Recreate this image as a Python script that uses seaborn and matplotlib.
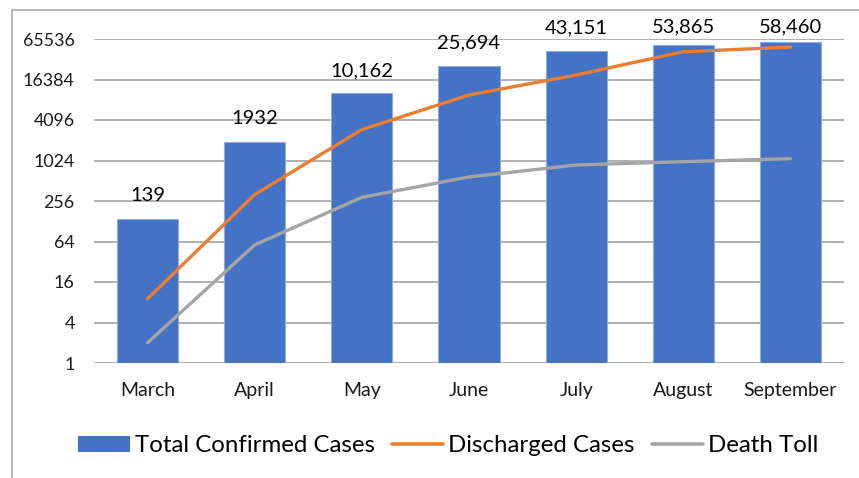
import matplotlib

matplotlib.use("Agg")

import matplotlib.pyplot as plt
import pandas as pd
import seaborn as sns
from matplotlib.lines import Line2D
from matplotlib.patches import Patch, Rectangle

MONTHS = ["March", "April", "May", "June", "July", "August", "September"]
CONFIRMED = [139, 1932, 10162, 25694, 43151, 53865, 58460]
CONFIRMED_LABELS = ["139", "1932", "10,162", "25,694", "43,151", "53,865", "58,460"]
DISCHARGED = [9, 319, 2950, 9650, 19100, 42400, 49600]
DEATHS = [2, 57, 290, 583, 878, 983, 1090]
Y_TICKS = [1, 4, 16, 64, 256, 1024, 4096, 16384, 65536]

BAR_COLOR = "#4472C4"
ORANGE = "#ED7D31"
GREY = "#A5A5A5"
GRID = "#A3A3A3"
TEXT = "#1A1A1A"

sns.set_theme(style="white")
plt.rcParams["font.family"] = ["Lato", "DejaVu Sans"]

df = pd.DataFrame(
    {
        "Month": MONTHS,
        "Total Confirmed Cases": CONFIRMED,
        "Discharged Cases": DISCHARGED,
        "Death Toll": DEATHS,
    }
)

fig = plt.figure(figsize=(8.59, 4.78), dpi=100)
ax = fig.add_axes([94 / 859, 115 / 478, 750 / 859, 324 / 478])

sns.barplot(
    data=df,
    x="Month",
    y="Total Confirmed Cases",
    color=BAR_COLOR,
    saturation=1,
    width=0.57,
    edgecolor="#8FAADC",
    linewidth=0.8,
    ax=ax,
    zorder=2,
)
for column, color in [("Discharged Cases", ORANGE), ("Death Toll", GREY)]:
    sns.lineplot(
        data=df,
        x="Month",
        y=column,
        color=color,
        linewidth=2.4,
        sort=False,
        ax=ax,
        zorder=3,
        solid_capstyle="round",
    )

ax.set_yscale("log", base=2)
ax.set_ylim(1, 65536)
ax.set_xlim(-0.5, len(MONTHS) - 0.5)
ax.set_yticks(Y_TICKS)
ax.set_yticklabels([str(t) for t in Y_TICKS])
ax.yaxis.set_minor_locator(matplotlib.ticker.NullLocator())
ax.grid(axis="y", color=GRID, linewidth=1.2, zorder=0)
ax.set_axisbelow(True)
for side in ["top", "right", "left", "bottom"]:
    ax.spines[side].set_visible(False)
ax.tick_params(axis="both", length=0, labelcolor=TEXT)
ax.tick_params(axis="y", pad=14, labelsize=12.8)
ax.tick_params(axis="x", pad=14, labelsize=14)
ax.set_xlabel("")
ax.set_ylabel("")

for i, (value, label) in enumerate(zip(CONFIRMED, CONFIRMED_LABELS)):
    y = min(value * 2.2, 98000)
    ax.text(i, y, label, ha="center", va="center", fontsize=14.5, color="black", clip_on=False)

handles = [
    Patch(facecolor=BAR_COLOR, edgecolor="none"),
    Line2D([0], [0], color=ORANGE, linewidth=2.6),
    Line2D([0], [0], color=GREY, linewidth=2.6),
]
fig.legend(
    handles,
    ["Total Confirmed Cases", "Discharged Cases", "Death Toll"],
    loc="center",
    bbox_to_anchor=(0.522, 0.068),
    ncol=3,
    frameon=False,
    fontsize=17.3,
    handlelength=2.15,
    handleheight=0.65,
    handletextpad=0.2,
    columnspacing=0.7,
    labelcolor="black",
)

fig.patches.append(
    Rectangle(
        (12 / 859, -0.1),
        1.2,
        1.0 + 0.1 - 10 / 478,
        transform=fig.transFigure,
        fill=False,
        edgecolor="#B0B0B0",
        linewidth=1.3,
    )
)

fig.savefig("out.png", dpi=100)
